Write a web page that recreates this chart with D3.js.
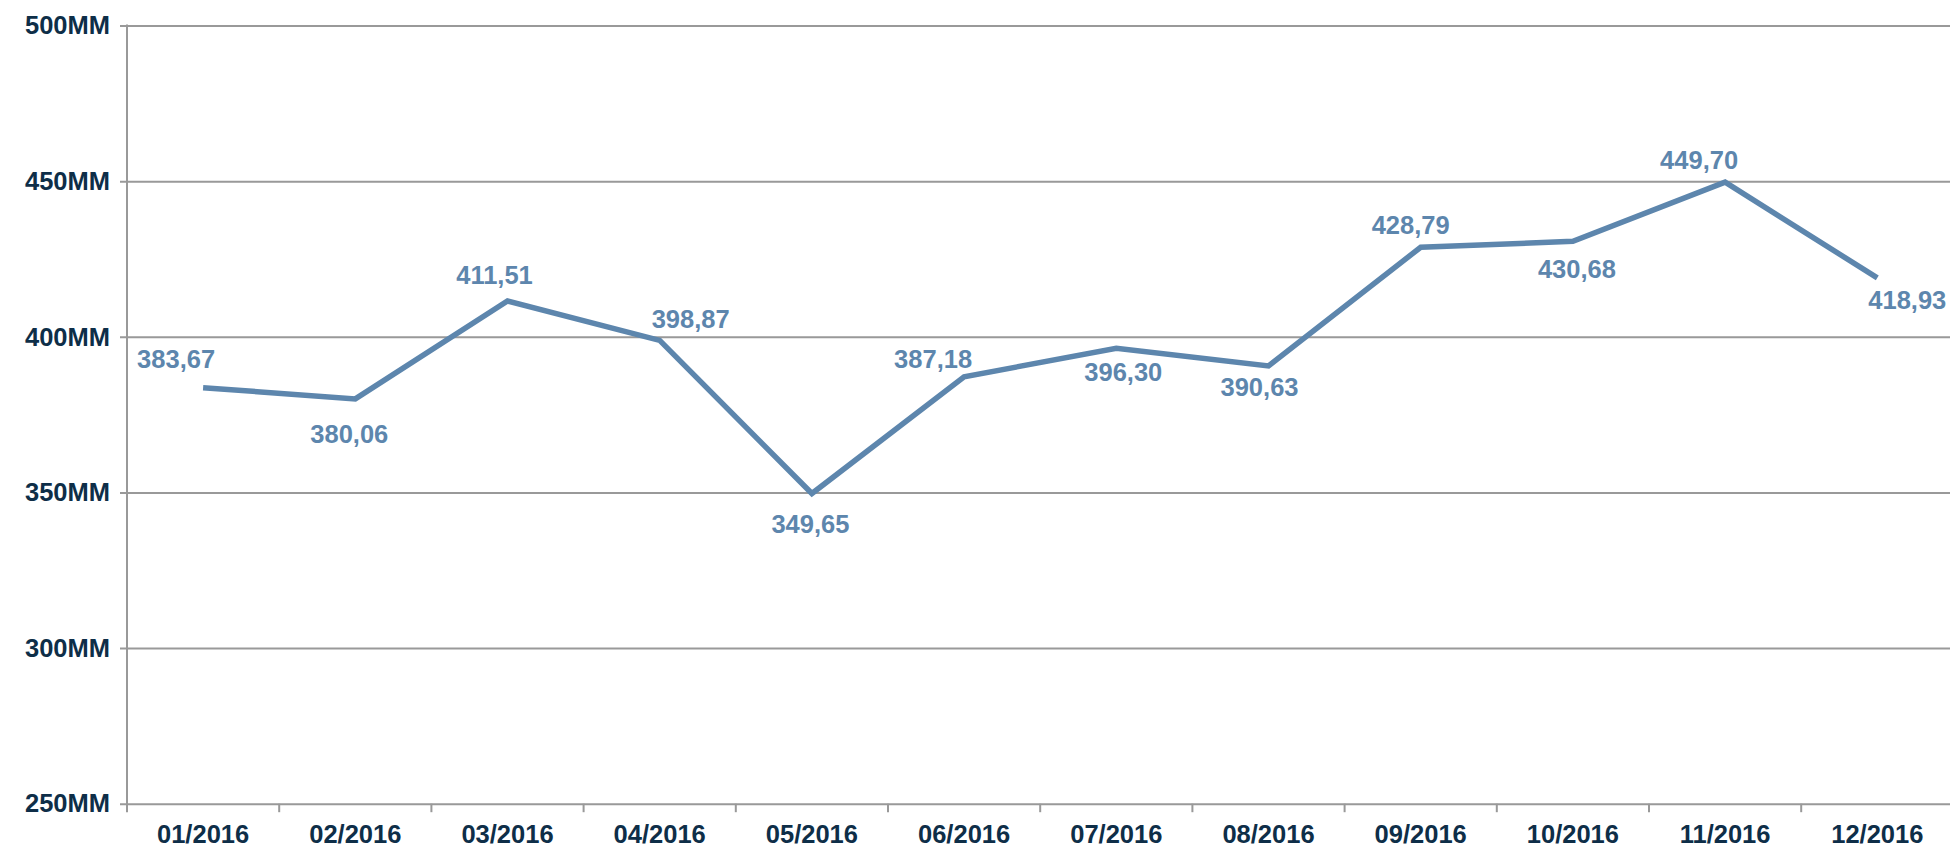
<!DOCTYPE html>
<html>
<head>
<meta charset="utf-8">
<script src="https://cdn.jsdelivr.net/npm/d3@7"></script>
<style>
  html, body { margin: 0; padding: 0; background: #fff; }
  svg { display: block; }
  text { font-family: "Liberation Sans", Arial, sans-serif; font-weight: bold; }
</style>
</head>
<body>
<script>
// ---- data ----
const categories = ["01/2016","02/2016","03/2016","04/2016","05/2016","06/2016",
                    "07/2016","08/2016","09/2016","10/2016","11/2016","12/2016"];
const values = [383.67, 380.06, 411.51, 398.87, 349.65, 387.18,
                396.30, 390.63, 428.79, 430.68, 449.70, 418.93];
const yTicks = [250, 300, 350, 400, 450, 500];
// label placement offsets relative to each point (layout)
const labelDx = [-27, -6, -13, 31, -1.5, -31, 7, -9, -10, 4, -26, 30];
const labelDy = [-29, 35.5, -26, -21, 30.5, -18, 24, 21, -22, 28, -22, 22];

(function () {
const W = 1950, H = 848;
const mLeft = 127, mTop = 25.6, mBottom = 803.7, band = 152.2;
const mRight = mLeft + band * categories.length;

const svg = d3.select("body").append("svg").attr("width", W).attr("height", H);

const x = d3.scaleBand().domain(categories).range([mLeft, mRight]).padding(0);
const y = d3.scaleLinear().domain([250, 500]).range([mBottom, mTop]);

const gridColor = "#999999";
const axisText = "#0e2e48";
const lineColor = "#5d86ad";

// gridlines + y axis
const yAxis = d3.axisLeft(y).tickValues(yTicks).tickFormat(d => d + "MM")
  .tickSize(-(W - mLeft)).tickPadding(17);
const gy = svg.append("g").attr("transform", `translate(${mLeft},0)`).call(yAxis);
gy.select(".domain").remove();
gy.selectAll(".tick line").attr("stroke", gridColor).attr("stroke-width", 2).attr("x1", -7);
gy.selectAll(".tick text").attr("fill", axisText).attr("font-size", "25.5px")
  .attr("font-family", '"Liberation Sans", Arial, sans-serif').attr("font-weight", "bold");

// left vertical axis line
svg.append("line").attr("x1", mLeft).attr("x2", mLeft).attr("y1", mTop - 1).attr("y2", mBottom + 8.5)
  .attr("stroke", gridColor).attr("stroke-width", 2);

// x axis: ticks at band boundaries
const boundaries = categories.map(c => x(c)).slice(1);
svg.append("g").selectAll("line").data(boundaries).join("line")
  .attr("x1", d => d).attr("x2", d => d).attr("y1", mBottom).attr("y2", mBottom + 8.5)
  .attr("stroke", gridColor).attr("stroke-width", 2);

const xAxis = d3.axisBottom(x).tickSize(0).tickPadding(0);
const gx = svg.append("g").attr("transform", `translate(0,${mBottom})`).call(xAxis);
gx.select(".domain").remove();
gx.selectAll(".tick text").attr("fill", axisText).attr("font-size", "25.5px")
  .attr("font-family", '"Liberation Sans", Arial, sans-serif').attr("font-weight", "bold")
  .attr("dy", null).attr("y", 39.5);

// line
const cx = i => x(categories[i]) + x.bandwidth() / 2;
const line = d3.line().x((d, i) => cx(i)).y(d => y(d));
svg.append("path").datum(values).attr("d", line)
  .attr("fill", "none").attr("stroke", lineColor).attr("stroke-width", 5.5)
  .attr("stroke-linejoin", "miter").attr("stroke-linecap", "butt");

// data labels
const fmt = d3.format(".2f");
svg.append("g").selectAll("text").data(values).join("text")
  .attr("x", (d, i) => cx(i) + labelDx[i])
  .attr("y", (d, i) => y(d) + labelDy[i])
  .attr("text-anchor", "middle").attr("dominant-baseline", "central")
  .attr("fill", lineColor).attr("font-size", "25.5px")
  .text(d => fmt(d).replace(".", ","));
})();
</script>
</body>
</html>
